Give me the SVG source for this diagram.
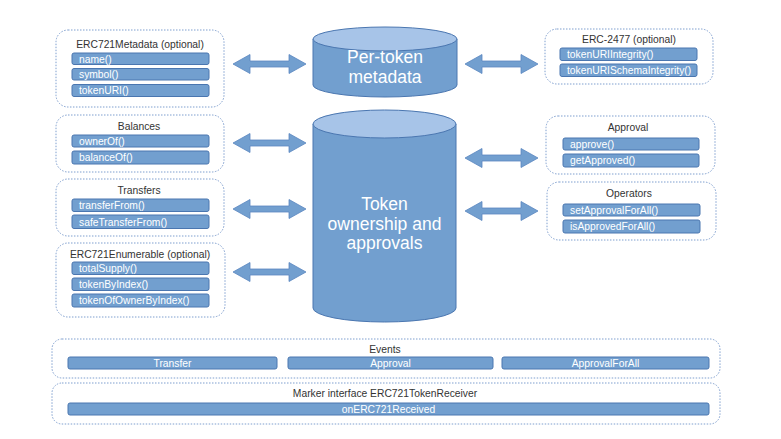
<svg xmlns="http://www.w3.org/2000/svg" xmlns:xlink="http://www.w3.org/1999/xlink" width="781" height="439" viewBox="0 0 781 439">
<defs>
<style>
.box{fill:#fff;stroke:#7f9fcf;stroke-width:1;stroke-dasharray:1.5 1.5}
.bar{fill:#729fcf;stroke:#4a76b0;stroke-width:1}
.title{font-family:"Liberation Sans",Arial,sans-serif;font-size:10.3px;fill:#333;text-anchor:middle}
.m{font-family:"Liberation Sans",Arial,sans-serif;font-size:10.3px;fill:#fff}
.mc{font-family:"Liberation Sans",Arial,sans-serif;font-size:10.3px;fill:#fff;text-anchor:middle}
.cyl{fill:#729fcf;stroke:#4a76b0;stroke-width:1}
.cyltop{fill:#a7c4e8;stroke:#4a76b0;stroke-width:1}
.ct{font-family:"Liberation Sans",Arial,sans-serif;font-size:17.5px;fill:#fff;text-anchor:middle}
.arr{fill:#729fcf;stroke:#5a86c0;stroke-width:0.8}
</style>
<path id="arr" class="arr" d="M0,0 L17,-9.5 L17,-3 L56,-3 L56,-9.5 L73,0 L56,9.5 L56,3 L17,3 L17,9.5 Z"/>
</defs>
<rect width="781" height="439" fill="#fff"/>

<g id="connectors">
<use xlink:href="#arr" x="233" y="64"/>
<use xlink:href="#arr" x="233" y="143"/>
<use xlink:href="#arr" x="233" y="209"/>
<use xlink:href="#arr" x="233" y="272"/>
<use xlink:href="#arr" x="465" y="64"/>
<use xlink:href="#arr" x="465" y="158"/>
<use xlink:href="#arr" x="465" y="211"/>
</g>

<g id="per-token-metadata">
<path class="cyl" d="M313,39 L313,85 A72,12 0 0 0 457,85 L457,39 Z"/>
<ellipse class="cyltop" cx="385" cy="39" rx="72" ry="12"/>
<text class="ct" x="385" y="63">Per-token</text>
<text class="ct" x="385" y="83">metadata</text>
</g>

<g id="token-ownership">
<path class="cyl" d="M313,124 L313,308 A71.5,14 0 0 0 456,308 L456,124 Z"/>
<ellipse class="cyltop" cx="384.5" cy="124" rx="71.5" ry="14"/>
<text class="ct" x="384.5" y="210">Token</text>
<text class="ct" x="384.5" y="230">ownership and</text>
<text class="ct" x="384.5" y="249">approvals</text>
</g>

<g id="erc721metadata">
<rect class="box" x="56" y="30" width="168" height="77" rx="12"/>
<text class="title" x="140" y="48">ERC721Metadata (optional)</text>
<rect class="bar" x="72" y="53" width="137" height="11.5" rx="2"/>
<text class="m" x="79" y="62.5">name()</text>
<rect class="bar" x="72" y="68.5" width="137" height="11.5" rx="2"/>
<text class="m" x="79" y="78">symbol()</text>
<rect class="bar" x="72" y="84.5" width="137" height="12" rx="2"/>
<text class="m" x="79" y="94">tokenURI()</text>
</g>

<g id="erc2477">
<rect class="box" x="545" y="29" width="168" height="55" rx="12"/>
<text class="title" x="629" y="43">ERC-2477 (optional)</text>
<rect class="bar" x="560" y="48" width="137" height="12.5" rx="2"/>
<text class="m" x="567" y="58">tokenURIIntegrity()</text>
<rect class="bar" x="560" y="64" width="137" height="12.5" rx="2"/>
<text class="m" x="567" y="74">tokenURISchemaIntegrity()</text>
</g>

<g id="balances">
<rect class="box" x="56" y="115" width="168" height="57" rx="12"/>
<text class="title" x="139" y="130">Balances</text>
<rect class="bar" x="72" y="135" width="137" height="12" rx="2"/>
<text class="m" x="79" y="144.5">ownerOf()</text>
<rect class="bar" x="72" y="151" width="137" height="13" rx="2"/>
<text class="m" x="79" y="161">balanceOf()</text>
</g>

<g id="transfers">
<rect class="box" x="56" y="179" width="168" height="57" rx="12"/>
<text class="title" x="139" y="194">Transfers</text>
<rect class="bar" x="72" y="199" width="137" height="12.5" rx="2"/>
<text class="m" x="79" y="209">transferFrom()</text>
<rect class="bar" x="72" y="215" width="137" height="13.5" rx="2"/>
<text class="m" x="79" y="225.5">safeTransferFrom()</text>
</g>

<g id="erc721enumerable">
<rect class="box" x="56" y="243" width="169" height="74" rx="12"/>
<text class="title" x="140" y="258">ERC721Enumerable (optional)</text>
<rect class="bar" x="72" y="262" width="137" height="12.5" rx="2"/>
<text class="m" x="79" y="272">totalSupply()</text>
<rect class="bar" x="72" y="278" width="137" height="12.5" rx="2"/>
<text class="m" x="79" y="288">tokenByIndex()</text>
<rect class="bar" x="72" y="294" width="137" height="13" rx="2"/>
<text class="m" x="79" y="304">tokenOfOwnerByIndex()</text>
</g>

<g id="approval">
<rect class="box" x="546" y="116" width="169" height="58" rx="12"/>
<text class="title" x="628" y="131">Approval</text>
<rect class="bar" x="563" y="138" width="136" height="12" rx="2"/>
<text class="m" x="570" y="147.5">approve()</text>
<rect class="bar" x="563" y="154" width="136" height="13" rx="2"/>
<text class="m" x="570" y="164">getApproved()</text>
</g>

<g id="operators">
<rect class="box" x="547" y="182" width="169" height="58" rx="12"/>
<text class="title" x="629" y="197">Operators</text>
<rect class="bar" x="563" y="204" width="137" height="12" rx="2"/>
<text class="m" x="570" y="213.5">setApprovalForAll()</text>
<rect class="bar" x="563" y="220" width="137" height="13" rx="2"/>
<text class="m" x="570" y="230">isApprovedForAll()</text>
</g>

<g id="events">
<rect class="box" x="52" y="339" width="668" height="39" rx="10"/>
<text class="title" x="385" y="353">Events</text>
<rect class="bar" x="68" y="357" width="209" height="12" rx="2"/>
<text class="mc" x="172.5" y="366.5">Transfer</text>
<rect class="bar" x="288" y="357" width="205" height="12" rx="2"/>
<text class="mc" x="390.5" y="366.5">Approval</text>
<rect class="bar" x="502" y="357" width="207" height="12" rx="2"/>
<text class="mc" x="605.5" y="366.5">ApprovalForAll</text>
</g>

<g id="erc721tokenreceiver">
<rect class="box" x="52" y="383" width="668" height="41" rx="10"/>
<text class="title" x="385" y="397">Marker interface ERC721TokenReceiver</text>
<rect class="bar" x="68" y="403" width="641" height="12" rx="2"/>
<text class="mc" x="388.5" y="412.5">onERC721Received</text>
</g>
</svg>
